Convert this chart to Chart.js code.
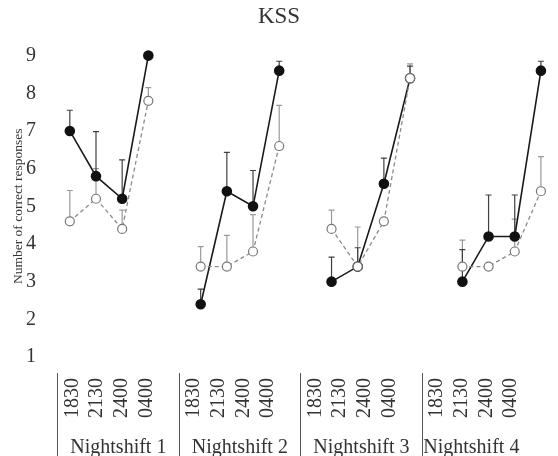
<!DOCTYPE html>
<html>
<head>
<meta charset="utf-8">
<script src="https://cdn.jsdelivr.net/npm/chart.js@4"></script>
<style>
    body { margin: 0; background: #fff; }
    #wrap { width: 558px; height: 456px; }
</style>
</head>
<body>
<div id="wrap"><canvas id="js--chart"></canvas></div>
<script>
const shifts = ['Nightshift 1', 'Nightshift 2', 'Nightshift 3', 'Nightshift 4'];
const times = ['1830', '2130', '2400', '0400'];
const yTicks = [1, 2, 3, 4, 5, 6, 7, 8, 9];

// filled circles, solid line
const filledMean  = [7.0, 5.8, 5.2, 9.0,  2.4, 5.4, 5.0, 8.6,  3.0, 3.4, 5.6, 8.4,  3.0, 4.2, 4.2, 8.6];
const filledUpper = [7.55, 6.98, 6.23, null,  2.8, 6.43, 5.95, 8.85,  3.65, 3.9, 6.28, 8.72,  3.85, 5.3, 5.3, 8.85];

// open circles, dashed line
const openMean  = [4.6, 5.2, 4.4, 7.8,  3.4, 3.4, 3.8, 6.6,  4.4, 3.4, 4.6, 8.4,  3.4, 3.4, 3.8, 5.4];
const openUpper = [5.42, 6.0, 4.9, 8.15,  3.93, 4.23, 4.78, 7.68,  4.9, 4.45, null, 8.78,  4.1, null, 4.66, 6.32];

const serif = "'Liberation Serif', 'Times New Roman', serif";
const textColor = '#333';

// index in the chart: 4 times per shift, one empty slot between shifts
function pos(i) {
    return Math.floor(i / 4) * 5 + i % 4;
}

function toPoints(values) {
    const pts = [];
    values.forEach(function(v, i) {
        pts.push({x: pos(i), y: v});
        if (i % 4 == 3 && i < values.length - 1) {
            pts.push({x: pos(i) + 1, y: null});
        }
    });
    return pts;
}

// error bars (upper only) behind the points
const errorBars = {
    id: 'errorBars',
    beforeDatasetsDraw(chart) {
        const ctx = chart.ctx;
        const xs = chart.scales.x;
        const ys = chart.scales.y;
        const sets = [
            [openMean, openUpper, '#9a9a9a'],
            [filledMean, filledUpper, '#404040']
        ];
        ctx.save();
        sets.forEach(function(s) {
            ctx.strokeStyle = s[2];
            ctx.lineWidth = 1.2;
            s[0].forEach(function(m, i) {
                if (s[1][i] == null) return;
                const px = xs.getPixelForValue(pos(i));
                const y0 = ys.getPixelForValue(m);
                const y1 = ys.getPixelForValue(s[1][i]);
                ctx.beginPath();
                ctx.moveTo(px, y0);
                ctx.lineTo(px, y1);
                ctx.moveTo(px - 3, y1);
                ctx.lineTo(px + 3, y1);
                ctx.stroke();
            });
        });
        ctx.restore();
    }
};

// vertical lines between the nightshifts under the x axis
const separators = {
    id: 'separators',
    afterDraw(chart) {
        const ctx = chart.ctx;
        const xt = chart.scales.xt;
        ctx.save();
        ctx.strokeStyle = '#555';
        ctx.lineWidth = 1;
        for (let g = 0; g < shifts.length; g++) {
            const px = Math.round(xt.getPixelForValue(g)) + 0.5;
            ctx.beginPath();
            ctx.moveTo(px, xt.top + 16);
            ctx.lineTo(px, chart.height);
            ctx.stroke();
        }
        ctx.restore();
    }
};

const data = {
    datasets: [
        {
            label: 'open',
            data: toPoints(openMean),
            order: 0,
            borderColor: '#8a8a8a',
            borderWidth: 1.3,
            borderDash: [4, 3],
            pointRadius: 4.5,
            pointBackgroundColor: '#fff',
            pointBorderColor: '#777',
            pointBorderWidth: 1.2,
            spanGaps: false,
            clip: false
        },
        {
            label: 'filled',
            data: toPoints(filledMean),
            order: 1,
            borderColor: '#1a1a1a',
            borderWidth: 1.6,
            pointRadius: 4.5,
            pointBackgroundColor: '#111',
            pointBorderColor: '#111',
            spanGaps: false,
            clip: false
        }
    ]
};

const config = {
    type: 'line',
    data: data,
    plugins: [errorBars, separators],
    options: {
        responsive: true,
        maintainAspectRatio: false,
        animation: false,
        layout: { padding: 0 },
        plugins: {
            legend: { display: false },
            tooltip: { enabled: false },
            title: {
                display: true,
                text: 'KSS',
                color: textColor,
                font: { family: serif, size: 23, weight: 'normal' },
                padding: { top: 3, bottom: 25 }
            }
        },
        scales: {
            x: {
                type: 'linear',
                display: false,
                min: -0.49,
                max: 18.42
            },
            xt: {
                type: 'linear',
                position: 'bottom',
                min: 0,
                max: 4.073,
                weight: 0,
                afterBuildTicks(scale) {
                    const t = [];
                    for (let g = 0; g < shifts.length; g++) {
                        [0.127, 0.33, 0.533, 0.736].forEach(function(o) { t.push({value: g + o}); });
                    }
                    scale.ticks = t;
                },
                afterFit(scale) { scale.height = 68; },
                ticks: {
                    autoSkip: false,
                    minRotation: 90,
                    maxRotation: 90,
                    padding: 13,
                    color: textColor,
                    font: { family: serif, size: 20 },
                    callback: function(value, index) { return times[index % 4]; }
                },
                grid: { display: false },
                border: { display: false }
            },
            xg: {
                type: 'linear',
                position: 'bottom',
                min: 0,
                max: 4.073,
                weight: 1,
                afterBuildTicks(scale) {
                    scale.ticks = [0.505, 1.505, 2.505, 3.41].map(function(v) { return {value: v}; });
                },
                afterFit(scale) { scale.height = 31; },
                ticks: {
                    autoSkip: false,
                    maxRotation: 0,
                    padding: 3,
                    color: textColor,
                    font: { family: serif, size: 20 },
                    callback: function(value, index) { return shifts[index]; }
                },
                grid: { display: false },
                border: { display: false }
            },
            y: {
                min: 1,
                max: 9,
                afterBuildTicks(scale) {
                    scale.ticks = yTicks.map(function(v) { return {value: v}; });
                },
                afterFit(scale) { scale.width = 57; },
                ticks: {
                    padding: 13,
                    color: textColor,
                    font: { family: serif, size: 20 }
                },
                grid: { display: false },
                border: { display: false },
                title: {
                    display: true,
                    text: 'Number of correct responses',
                    color: textColor,
                    font: { family: serif, size: 13.5 },
                    padding: { top: 10, bottom: 0 }
                }
            }
        }
    }
};

const myChart = new Chart(document.getElementById('js--chart'), config);
</script>
</body>
</html>
